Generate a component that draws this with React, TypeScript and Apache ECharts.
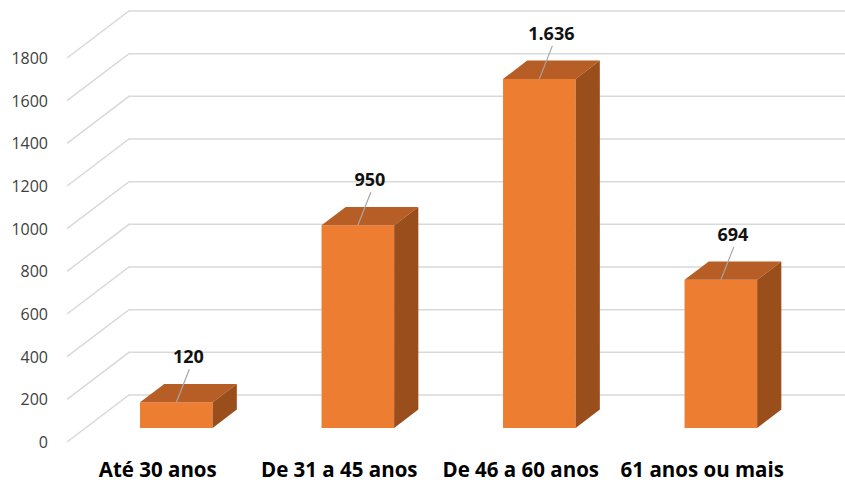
import React, { useEffect, useRef } from "react";
import * as echarts from "echarts";

const categories = ["Até 30 anos", "De 31 a 45 anos", "De 46 a 60 anos", "61 anos ou mais"];
const values = [120, 950, 1636, 694];
const valueLabels = ["120", "950", "1.636", "694"];
const gridValues = [0, 200, 400, 600, 800, 1000, 1200, 1400, 1600, 1800];

const DEPTH_X = 62;
const DEPTH_Y = -47;
const BAR_START = 0.3;
const BAR_END = 0.69;
const FONT = "'Open Sans', 'Noto Sans', sans-serif";

export default function App() {
  const ref = useRef<HTMLDivElement>(null);
  useEffect(() => {
    if (!ref.current) return;
    const chart = echarts.init(ref.current, undefined, { renderer: "svg" });
    chart.setOption({
      animation: false,
      backgroundColor: "#ffffff",
      grid: { left: 67, right: 52, top: 58, bottom: 47 },
      xAxis: {
        type: "category",
        data: categories,
        axisLine: { show: false },
        axisTick: { show: false },
        splitLine: { show: false },
        axisLabel: {
          interval: 0,
          hideOverlap: false,
          margin: 16,
          fontSize: 20.5,
          fontWeight: "bold",
          fontFamily: FONT,
          color: "#000000",
        },
      },
      yAxis: {
        type: "value",
        min: 0,
        max: 1800,
        interval: 200,
        axisLine: { show: false },
        axisTick: { show: false },
        splitLine: { show: false },
        axisLabel: {
          margin: 19,
          fontSize: 16,
          fontFamily: FONT,
          color: "#404040",
          formatter: (v: number) => String(v),
        },
      },
      series: [
        {
          type: "custom",
          z: 1,
          silent: true,
          data: gridValues.map((v) => [0, v]),
          encode: { x: 0, y: 1 },
          renderItem: (params: any, api: any) => {
            const y = api.coord([0, api.value(1)])[1];
            const left = params.coordSys.x;
            return {
              type: "polyline",
              shape: {
                points: [
                  [left, y],
                  [left + DEPTH_X, y + DEPTH_Y],
                  [900, y + DEPTH_Y],
                ],
              },
              style: { stroke: "#d9d9d9", lineWidth: 1.5, fill: null },
            };
          },
        },
        {
          type: "custom",
          z: 2,
          data: values.map((v, i) => [i, v]),
          encode: { x: 0, y: 1 },
          renderItem: (params: any, api: any) => {
            const idx = params.dataIndex;
            const base = api.coord([api.value(0), 0]);
            const topP = api.coord([api.value(0), api.value(1)]);
            const bw = api.size([1, 0])[0] * 0.4;
            const ox = DEPTH_X * BAR_START;
            const oy = DEPTH_Y * BAR_START;
            const dx = DEPTH_X * (BAR_END - BAR_START);
            const dy = DEPTH_Y * (BAR_END - BAR_START);
            const cx = base[0] + ox;
            const x0 = cx - bw / 2;
            const x1 = cx + bw / 2;
            const yb = base[1] + oy;
            const yt = topP[1] + oy;
            return {
              type: "group",
              children: [
                {
                  type: "polygon",
                  shape: { points: [[x0, yb], [x1, yb], [x1, yt], [x0, yt]] },
                  style: { fill: "#ED7D31" },
                },
                {
                  type: "polygon",
                  shape: { points: [[x0, yt], [x1, yt], [x1 + dx, yt + dy], [x0 + dx, yt + dy]] },
                  style: { fill: "#B65E25" },
                },
                {
                  type: "polygon",
                  shape: { points: [[x1, yb], [x1, yt], [x1 + dx, yt + dy], [x1 + dx, yb + dy]] },
                  style: { fill: "#9A4E1C" },
                },
                {
                  type: "line",
                  shape: { x1: cx + 13, y1: yt - 33, x2: cx, y2: yt },
                  style: { stroke: "#a6a6a6", lineWidth: 1.2 },
                },
                {
                  type: "text",
                  style: {
                    text: valueLabels[idx],
                    x: cx + 12,
                    y: yt - 46,
                    align: "center",
                    verticalAlign: "middle",
                    font: `bold 18px ${FONT}`,
                    fill: "#111111",
                  },
                },
              ],
            };
          },
        },
      ],
    });
    return () => chart.dispose();
  }, []);
  return (
    <div
      ref={ref}
      style={{ position: "absolute", left: 0, top: 0, width: 845, height: 489 }}
    />
  );
}
